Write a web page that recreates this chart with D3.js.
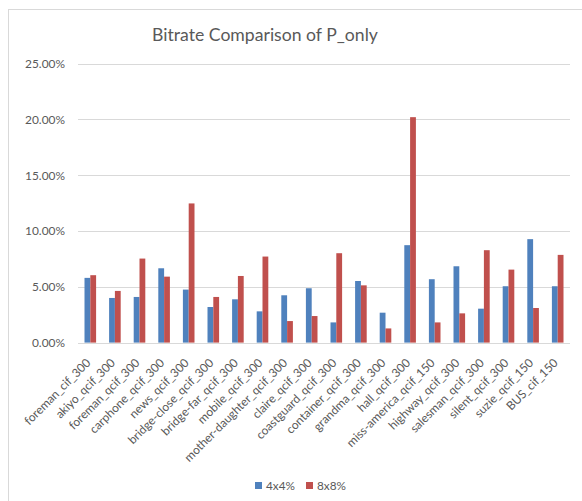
<!DOCTYPE html>
<html>
<head>
<meta charset="utf-8">
<script src="https://cdn.jsdelivr.net/npm/d3@7/dist/d3.min.js"></script>
<style>
  html, body { margin: 0; padding: 0; background: #fff; }
  svg { display: block; font-family: Lato, "Open Sans", sans-serif; }
</style>
</head>
<body>
<svg id="chart" width="582" height="501"></svg>
<script>
// Sequences and bitrate change per block size
const categories = [
  "foreman_cif_300", "akiyo_qcif_300", "foreman_qcif_300", "carphone_qcif_300",
  "news_qcif_300", "bridge-close_qcif_300", "bridge-far_qcif_300", "mobile_qcif_300",
  "mother-daughter_qcif_300", "claire_qcif_300", "coastguard_qcif_300", "container_qcif_300",
  "grandma_qcif_300", "hall_qcif_300", "miss-america_qcif_150", "highway_qcif_300",
  "salesman_qcif_300", "silent_qcif_300", "suzie_qcif_150", "BUS_cif_150"
];
const series4x4 = [
  0.0580, 0.0400, 0.0409, 0.0666, 0.0475, 0.0319, 0.0388, 0.0280, 0.0424, 0.0487,
  0.0181, 0.0552, 0.0268, 0.0873, 0.0568, 0.0684, 0.0304, 0.0505, 0.0927, 0.0505
];
const series8x8 = [
  0.0604, 0.0463, 0.0753, 0.0591, 0.1247, 0.0409, 0.0597, 0.0771, 0.0193, 0.0238,
  0.0801, 0.0513, 0.0127, 0.2020, 0.0181, 0.0262, 0.0828, 0.0654, 0.0310, 0.0786
];
const seriesNames = ["4x4%", "8x8%"];
const seriesColors = ["#4f81bd", "#c0504d"];
const yTicks = [0, 0.05, 0.10, 0.15, 0.20, 0.25];
const titleText = "Bitrate Comparison of P_only";

const svg = d3.select("#chart");
const textColor = "#595959";
const gridColor = "#d9d9d9";
const fontStack = "Lato, 'Open Sans', sans-serif";

// Fit a text node's font size so its rendered width equals a given width
function fitWidth(sel, target, base) {
  sel.attr("font-size", base);
  const w = sel.node().getComputedTextLength();
  const fs = +(base * target / w).toFixed(2);
  sel.attr("font-size", fs);
  return fs;
}

// Chart area frame
svg.append("rect")
  .attr("x", 8.5).attr("y", 9.5)
  .attr("width", 600).attr("height", 520)
  .attr("fill", "#fff").attr("stroke", gridColor).attr("stroke-width", 1);

// Title
const title = svg.append("text")
  .attr("x", 265).attr("y", 40.5)
  .attr("text-anchor", "middle")
  .attr("fill", textColor)
  .text(titleText);
fitWidth(title, 226, 18);

const x = d3.scaleBand().domain(categories).range([78, 570]).padding(0);
const y = d3.scaleLinear().domain([0, 0.25]).range([342.6, 63.6]);
const barW = 5.8;
const x1 = d3.scaleBand().domain(seriesNames).range([0, barW * 2]);

// Gridlines
svg.append("g").selectAll("line").data(yTicks).join("line")
  .attr("x1", 78).attr("x2", 570)
  .attr("y1", d => Math.round(y(d)) + 0.5).attr("y2", d => Math.round(y(d)) + 0.5)
  .attr("stroke", gridColor).attr("stroke-width", 1);

// Y axis labels
const yAxis = svg.append("g")
  .attr("transform", "translate(65,0)")
  .call(d3.axisLeft(y).tickValues(yTicks).tickFormat(d3.format(".2%")).tickSize(0).tickPadding(0));
yAxis.select(".domain").remove();
yAxis.selectAll("text").attr("fill", textColor).attr("font-family", fontStack);
{
  const t = yAxis.selectAll(".tick text").filter(d => d === 0.25);
  const fs = fitWidth(t, 40, 12);
  yAxis.selectAll("text").attr("font-size", fs);
}

// Bars
const rows = categories.map((c, i) => ({ c, vals: [series4x4[i], series8x8[i]] }));
const groups = svg.append("g").selectAll("g").data(rows).join("g")
  .attr("transform", d => `translate(${x(d.c) + x.bandwidth() / 2 - barW},0)`);
groups.selectAll("rect")
  .data(d => d.vals.map((v, k) => ({ name: seriesNames[k], v, k })))
  .join("rect")
  .attr("x", d => x1(d.name))
  .attr("width", x1.bandwidth())
  .attr("y", d => y(d.v))
  .attr("height", d => y(0) - y(d.v))
  .attr("fill", d => seriesColors[d.k]);

// Category axis, labels slanted at 45 degrees
const xAxis = svg.append("g")
  .attr("transform", `translate(0,${y(0)})`)
  .call(d3.axisBottom(x).tickSize(0).tickPadding(0));
xAxis.select(".domain").remove();
const xLabels = xAxis.selectAll("text")
  .attr("fill", textColor)
  .attr("font-family", fontStack)
  .attr("dy", null)
  .attr("y", 0)
  .attr("text-anchor", "end")
  .attr("transform", "translate(1,21) rotate(-45)");
{
  const t = xLabels.filter(d => d === "mother-daughter_qcif_300");
  const fs = fitWidth(t, 140, 12);
  xLabels.attr("font-size", fs);
}

// Legend
const legend = svg.append("g");
const legendItems = [
  { name: seriesNames[0], color: seriesColors[0], x: 255 },
  { name: seriesNames[1], color: seriesColors[1], x: 306 }
];
legendItems.forEach(it => {
  legend.append("rect")
    .attr("x", it.x).attr("y", 482).attr("width", 7).attr("height", 7)
    .attr("fill", it.color);
  const t = legend.append("text")
    .attr("x", it.x + 11).attr("y", 489.5)
    .attr("fill", textColor)
    .text(it.name);
  fitWidth(t, 29, 12);
});
</script>
</body>
</html>
